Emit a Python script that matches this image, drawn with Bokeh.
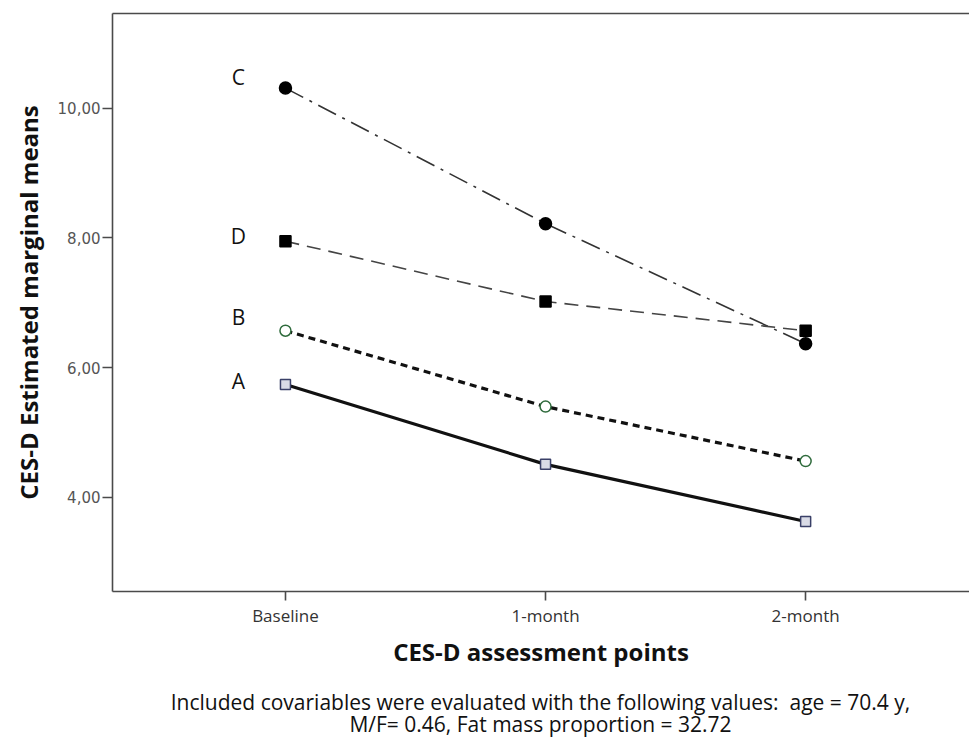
from bokeh.plotting import figure
from bokeh.models import FixedTicker, LinearAxis, Div, ColumnDataSource
from bokeh.layouts import column
from bokeh.core.properties import value
from bokeh.embed import file_html
from bokeh.resources import INLINE

# ---- data ----
time_points = ["Baseline", "1-month", "2-month"]
series_names = ["A", "B", "C", "D"]
A_values = [5.74, 4.51, 3.63]
B_values = [6.57, 5.40, 4.56]
C_values = [10.31, 8.22, 6.37]
D_values = [7.95, 7.02, 6.57]
y_ticks = [4, 6, 8, 10]
y_tick_labels = ["4,00", "6,00", "8,00", "10,00"]
x_title = "CES-D assessment points"
y_title = "CES-D Estimated marginal means"
note_lines = [
    "Included covariables were evaluated with the following values:&nbsp; age = 70.4 y,",
    "M/F= 0.46, Fat mass proportion = 32.72",
]

series_values = {"A": A_values, "B": B_values, "C": C_values, "D": D_values}

# ---- styles ----
styles = {
    "A": dict(dash="solid", width=3.2, color="#111111", marker="square", size=10,
              m_line="#3a4068", m_fill="#d9dbe6", label_dy=-4),
    "B": dict(dash="7 5", width=3.2, color="#111111", marker="circle", size=11,
              m_line="#2f6b3c", m_fill="#ffffff", label_dy=-14),
    "C": dict(dash="20 7 3 7", width=1.6, color="#333333", marker="circle", size=12,
              m_line="#000000", m_fill="#000000", label_dy=-11),
    "D": dict(dash="14 8", width=1.6, color="#444444", marker="square", size=11,
              m_line="#000000", m_fill="#000000", label_dy=-5),
}

W = 969
LEFT, TOP, BOTTOM = 112, 13, 100
FIG_H = 691
NOTE_H = 738 - FIG_H - 1

x_idx = list(range(len(time_points)))

p = figure(width=W, height=FIG_H, x_range=(-0.665, 2.63), y_range=(2.55, 11.46),
           output_backend="svg", toolbar_location=None,
           min_border_left=LEFT, min_border_right=0, min_border_top=TOP,
           min_border_bottom=BOTTOM)
p.outline_line_color = None
p.xgrid.visible = False
p.ygrid.visible = False
p.background_fill_color = "white"
p.border_fill_color = "white"

axis_color = "#4a4a4a"

# y axis
p.yaxis.ticker = FixedTicker(ticks=y_ticks)
p.yaxis.major_label_overrides = {t: l for t, l in zip(y_ticks, y_tick_labels)}
p.yaxis.minor_tick_line_color = None
p.yaxis.major_tick_in = 0
p.yaxis.major_tick_out = 10
p.yaxis.major_label_standoff = 2
p.yaxis.axis_line_color = axis_color
p.yaxis.axis_line_width = 1.6
p.yaxis.major_tick_line_color = axis_color
p.yaxis.major_tick_line_width = 1.6
p.yaxis.major_label_text_font = "DejaVu Sans"
p.yaxis.major_label_text_font_size = "15px"
p.yaxis.major_label_text_color = "#555555"
p.yaxis.axis_label = y_title
p.yaxis.axis_label_text_font = "Open Sans"
p.yaxis.axis_label_text_font_size = "24px"
p.yaxis.axis_label_text_font_style = "bold"
p.yaxis.axis_label_text_color = "#111111"
p.yaxis.axis_label_standoff = 10

# x axis
p.xaxis.ticker = FixedTicker(ticks=x_idx)
p.xaxis.major_label_overrides = {i: t for i, t in zip(x_idx, time_points)}
p.xaxis.minor_tick_line_color = None
p.xaxis.major_tick_in = 0
p.xaxis.major_tick_out = 9
p.xaxis.major_label_standoff = 3
p.xaxis.axis_line_color = axis_color
p.xaxis.axis_line_width = 1.6
p.xaxis.major_tick_line_color = axis_color
p.xaxis.major_tick_line_width = 1.6
p.xaxis.major_label_text_font = "Open Sans"
p.xaxis.major_label_text_font_size = "17px"
p.xaxis.major_label_text_color = "#333333"
p.xaxis.axis_label = x_title
p.xaxis.axis_label_text_font = "Open Sans"
p.xaxis.axis_label_text_font_size = "24px"
p.xaxis.axis_label_text_font_style = "bold"
p.xaxis.axis_label_text_color = "#111111"
p.xaxis.axis_label_standoff = 5

# top frame line
top = LinearAxis(ticker=FixedTicker(ticks=[]), axis_line_color=axis_color,
                 axis_line_width=1.6, major_tick_line_color=None,
                 minor_tick_line_color=None, major_label_text_font_size="0px")
p.add_layout(top, "above")

# series
for name in series_names:
    s = styles[name]
    vals = series_values[name]
    src = ColumnDataSource(dict(x=x_idx, y=vals))
    p.line("x", "y", source=src, line_color=s["color"], line_width=s["width"],
           line_dash=s["dash"])
    p.scatter("x", "y", source=src, marker=s["marker"], size=s["size"],
              line_color=s["m_line"], fill_color=s["m_fill"], line_width=1.5)
    lab = ColumnDataSource(dict(x=[x_idx[0]], y=[vals[0]], t=[name]))
    p.text("x", "y", text="t", source=lab, x_offset=-47, y_offset=s["label_dy"],
           text_align="center", text_baseline="middle",
           text_font=value("Open Sans"), text_font_size="21px", text_color="#111111")

# note below the chart
note = Div(text="<br>".join(note_lines), width=W - LEFT, height=NOTE_H,
           margin=(0, 0, 0, LEFT),
           styles={"text-align": "center", "font-family": "Open Sans",
                   "font-size": "21px", "line-height": "22px", "color": "#111111",
                   "width": f"{W - LEFT}px", "white-space": "nowrap"})

layout = column(p, note, spacing=0)
open("out.html", "w").write(file_html(layout, INLINE))
